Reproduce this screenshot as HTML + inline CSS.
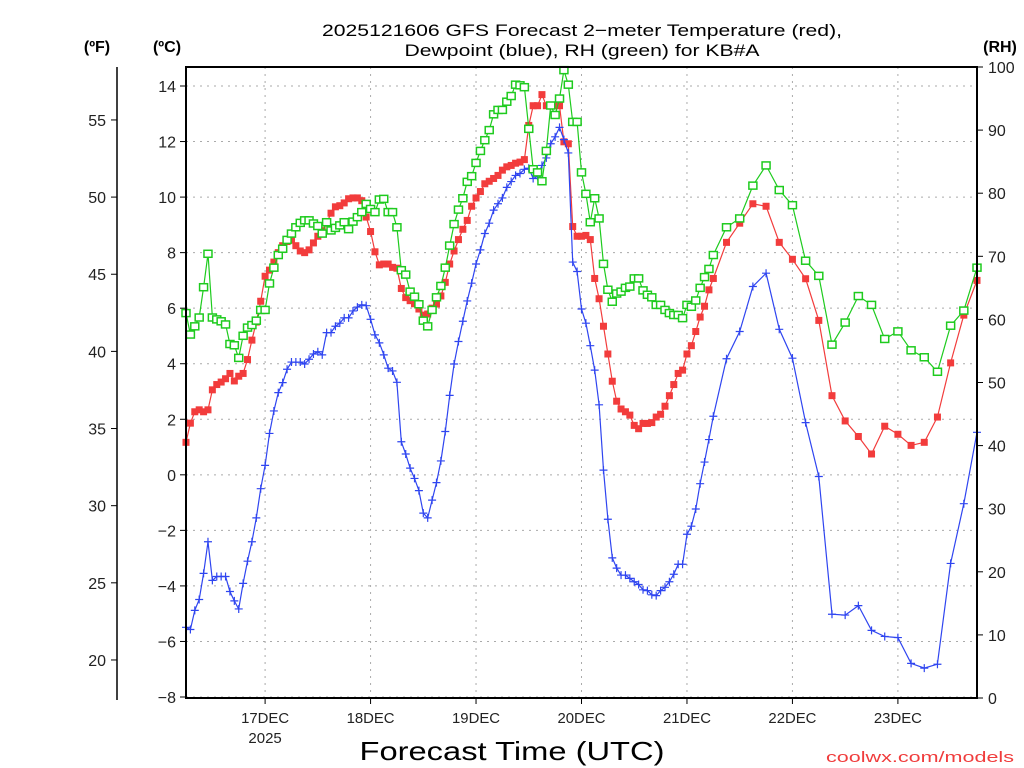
<!DOCTYPE html>
<html><head><meta charset="utf-8"><title>GFS Forecast KB#A</title>
<style>
html,body{margin:0;padding:0;background:#fff;}
svg{display:block;}
text{font-family:"Liberation Sans",sans-serif;}
</style></head>
<body>
<svg id="chart" width="1024" height="768" viewBox="0 0 1024 768" xmlns="http://www.w3.org/2000/svg">
<rect x="0" y="0" width="1024" height="768" fill="#fff"/>
<g id="grid"></g>
<g id="series"></g>
<g id="axes"></g>
<text x="582" y="36" text-anchor="middle" font-size="17" textLength="520" lengthAdjust="spacingAndGlyphs">2025121606 GFS Forecast 2−meter Temperature (red),</text>
<text x="582" y="56" text-anchor="middle" font-size="17" textLength="355" lengthAdjust="spacingAndGlyphs">Dewpoint (blue), RH (green) for KB#A</text>
<text x="97" y="52" text-anchor="middle" font-size="16" font-weight="bold">(ºF)</text>
<text x="167" y="52" text-anchor="middle" font-size="16" font-weight="bold">(ºC)</text>
<text x="1000" y="52" text-anchor="middle" font-size="16" font-weight="bold">(RH)</text>
<text x="512" y="760" text-anchor="middle" font-size="26" textLength="305" lengthAdjust="spacingAndGlyphs">Forecast Time (UTC)</text>
<text x="920" y="762" text-anchor="middle" font-size="15" fill="#f03c3c" textLength="188" lengthAdjust="spacingAndGlyphs">coolwx.com/models</text>
</svg>
<script>
const hours = [0,1,2,3,4,5,6,7,8,9,10,11,12,13,14,15,16,17,18,19,20,21,22,23,24,25,26,27,28,29,30,31,32,33,34,35,36,37,38,39,40,41,42,43,44,45,46,47,48,49,50,51,52,53,54,55,56,57,58,59,60,61,62,63,64,65,66,67,68,69,70,71,72,73,74,75,76,77,78,79,80,81,82,83,84,85,86,87,88,89,90,91,92,93,94,95,96,97,98,99,100,101,102,103,104,105,106,107,108,109,110,111,112,113,114,115,116,117,118,119,120,123,126,129,132,135,138,141,144,147,150,153,156,159,162,165,168,171,174,177,180];
const tempC = [1.17,1.86,2.27,2.34,2.27,2.34,3.06,3.25,3.34,3.46,3.65,3.38,3.55,3.65,4.15,
4.85,5.5,6.25,7.15,7.37,7.66,8.0,8.25,8.4,8.45,8.25,8.06,8.0,8.1,8.35,
8.59,8.79,9.06,9.42,9.65,9.69,9.79,9.94,9.97,9.97,9.87,9.28,8.76,8.03,7.56,
7.59,7.59,7.47,7.44,6.71,6.38,6.27,6.16,5.97,5.75,5.79,6.0,6.15,6.44,6.93,
7.59,8.06,8.47,8.84,9.16,9.67,9.97,10.2,10.48,10.57,10.67,10.78,10.97,11.09,11.14,
11.22,11.26,11.35,12.58,13.29,13.29,13.69,13.29,13.29,13.29,13.29,11.99,11.92,8.94,8.59,
8.59,8.62,8.47,7.07,6.34,5.35,4.35,3.37,2.65,2.37,2.27,2.15,1.78,1.66,1.85,
1.85,1.88,2.08,2.18,2.47,2.85,3.25,3.65,3.77,4.35,4.65,5.16,5.68,6.07,6.66,7.07,
8.37,9.06,9.76,9.67,8.37,7.76,7.06,5.56,2.85,1.94,1.38,0.75,1.75,1.46,1.06,1.17,2.08,4.03,5.75,7.0];
const dewC = [-5.49,-5.57,-4.88,-4.49,-3.55,-2.41,-3.80,-3.66,-3.66,-3.66,-4.20,-4.54,-4.83,-3.91,-3.11,
-2.41,-1.55,-0.50,0.34,1.49,2.30,2.96,3.32,3.80,4.06,4.06,4.06,3.99,4.16,4.35,
4.43,4.32,5.12,5.12,5.35,5.46,5.65,5.65,5.90,6.04,6.12,6.09,5.6,5.04,4.75,
4.32,3.84,3.74,3.33,1.19,0.75,0.24,-0.13,-0.57,-1.38,-1.55,-0.91,-0.28,0.5,1.56,
2.86,3.99,4.80,5.53,6.26,6.90,7.59,8.10,8.69,9.06,9.53,9.76,9.97,10.35,10.56,
10.78,10.85,11.0,11.04,10.67,10.75,11.14,11.41,11.92,12.17,12.51,12.07,11.59,7.66,7.32,
5.97,5.46,4.65,3.77,2.52,0.17,-1.60,-2.99,-3.36,-3.61,-3.61,-3.73,-3.85,-3.95,-4.14,
-4.17,-4.32,-4.35,-4.17,-4.05,-3.85,-3.58,-3.22,-3.22,-2.14,-1.85,-1.23,-0.32,0.46,1.27,2.11,
4.18,5.16,6.78,7.26,5.24,4.2,1.88,-0.06,-5.02,-5.05,-4.71,-5.6,-5.82,-5.86,-6.79,-6.96,-6.82,-3.19,-1.04,1.53];
const rhPct = [61.0,57.6,58.9,60.3,65.1,70.4,60.3,60.0,59.7,59.2,56.1,55.9,53.9,57.4,58.7,
59.1,59.8,61.5,61.5,65.7,68.2,70.2,71.2,72.6,73.6,74.6,75.3,75.7,75.7,75.2,
74.8,73.6,75.4,74.1,74.5,74.9,75.4,74.3,75.5,76.2,77.0,78.3,77.5,77.0,79.0,
79.1,77.0,77.0,74.6,67.8,67.1,64.4,63.6,62.4,59.8,58.9,61.5,63.5,65.3,68.2,
71.7,75.1,77.4,79.2,81.8,82.7,84.8,86.7,88.4,90.0,92.5,93.2,93.2,94.5,95.4,
97.2,97.1,96.8,90.2,83.8,83.3,81.9,86.7,93.9,92.4,95.0,99.5,97.2,91.3,91.3,
83.3,79.9,75.4,79.2,76.0,68.8,64.7,62.8,64.1,64.4,65.0,65.2,66.5,66.5,64.6,
63.9,63.5,62.3,62.3,61.5,61.0,60.7,60.7,60.2,62.3,62.0,63.0,65.0,66.7,68.0,70.2,
74.6,76.0,81.2,84.4,80.5,78.1,69.3,66.9,56.0,59.5,63.7,62.3,56.9,58.1,55.1,54.0,51.7,59.0,61.4,68.2];
const dayLabels = ["17DEC","18DEC","19DEC","20DEC","21DEC","22DEC","23DEC"];
const dayHours = [18,42,66,90,114,138,162];
const celsiusTicks = [14,12,10,8,6,4,2,0,-2,-4,-6,-8];
const fahrenheitTicks = [55,50,45,40,35,30,25,20];
const rhTicks = [100,90,80,70,60,50,40,30,20,10,0];

const NS = "http://www.w3.org/2000/svg";
const L = 186, R = 977, T = 67, B = 698;
const H0 = 0, H1 = 180;
function xs(h){ return L + (h - H0) / (H1 - H0) * (R - L); }
function yC(c){ return 86 + (14 - c) * (697 - 86) / 22; }
function yF(f){ return yC((f - 32) / 1.8); }
function yRH(r){ return B - r / 100 * (B - T); }
function mk(tag, attrs, parent){
  const e = document.createElementNS(NS, tag);
  for (const k in attrs) e.setAttribute(k, attrs[k]);
  parent.appendChild(e);
  return e;
}
const grid = document.getElementById('grid');
const axes = document.getElementById('axes');
const series = document.getElementById('series');

// horizontal grid + celsius ticks
celsiusTicks.forEach(c => {
  const y = yC(c);
  const g = mk('line', {x1:L, x2:R, y1:y, y2:y, stroke:'#aaa', 'stroke-width':1, 'stroke-dasharray':'2,5'}, grid);
  
  
  const t = mk('line', {x1:L-6, x2:L, y1:y, y2:y, stroke:'#000', 'stroke-width':1}, axes);
  
  
  const lb = mk('text', {x:L-10, y:y+6, 'text-anchor':'end', 'font-size':16, fill:'#222'}, axes);
  lb.textContent = c < 0 ? '−' + Math.abs(c) : String(c);
  
  
});
// vertical grid + day labels
dayHours.forEach((h, i) => {
  const x = xs(h);
  const g = mk('line', {x1:x, x2:x, y1:T, y2:B, stroke:'#aaa', 'stroke-width':1, 'stroke-dasharray':'2,5'}, grid);
  
  
  const t = mk('line', {x1:x, x2:x, y1:B, y2:B+6, stroke:'#000', 'stroke-width':1}, axes);
  
  
  const lb = mk('text', {x:x, y:723, 'text-anchor':'middle', 'font-size':15, fill:'#222', textLength:48, lengthAdjust:'spacingAndGlyphs'}, axes);
  lb.textContent = dayLabels[i];
  
  
  if (i === 0) {
    const yr = mk('text', {x:x, y:743, 'text-anchor':'middle', 'font-size':15, fill:'#222'}, axes);
    yr.textContent = '2025';
    
    
  }
});
// RH ticks
rhTicks.forEach(r => {
  const y = yRH(r);
  const t = mk('line', {x1:R, x2:R+6, y1:y, y2:y, stroke:'#000', 'stroke-width':1}, axes);
  
  
  const lb = mk('text', {x:R+11, y:y+6, 'text-anchor':'start', 'font-size':16, fill:'#222'}, axes);
  lb.textContent = String(r);
  
  
});
// Fahrenheit axis
const fAx = mk('line', {x1:117, x2:117, y1:T, y2:700, stroke:'#000', 'stroke-width':1.5}, axes);


fahrenheitTicks.forEach(f => {
  const y = yF(f);
  const t = mk('line', {x1:111, x2:117, y1:y, y2:y, stroke:'#000', 'stroke-width':1}, axes);
  
  
  const lb = mk('text', {x:106, y:y+6, 'text-anchor':'end', 'font-size':16, fill:'#222'}, axes);
  lb.textContent = String(f);
  
  
});
// frame
const frame = mk('rect', {x:L, y:T, width:R-L, height:B-T, fill:'none', stroke:'#000', 'stroke-width':2}, axes);



function drawSeries(vals, yfun, color, kind, name){
  const g = mk('g', {}, series);
  
  
  const pts = vals.map((v, i) => xs(hours[i]).toFixed(1) + ',' + yfun(v).toFixed(1)).join(' ');
  const pl = mk('polyline', {points:pts, fill:'none', stroke:color, 'stroke-width':1.2}, g);
  
  
  vals.forEach((v, i) => {
    const x = xs(hours[i]), y = yfun(v);
    let m;
    if (kind === 'filled') {
      m = mk('rect', {x:x-3.5, y:y-3.5, width:7, height:7, fill:color}, g);
    } else if (kind === 'hollow') {
      m = mk('rect', {x:x-4, y:y-3.5, width:8, height:7, fill:'#fff', stroke:color, 'stroke-width':1.5}, g);
    } else {
      m = mk('path', {d:'M'+(x-4)+','+y+'h8M'+x+','+(y-4)+'v8', stroke:color, 'stroke-width':1.2, fill:'none'}, g);
    }
    
    
  });
}
drawSeries(tempC, yC, '#f23c3c', 'filled', 'temperature-series');
drawSeries(dewC, yC, '#2f45f0', 'plus', 'dewpoint-series');
drawSeries(rhPct, yRH, '#1ecb1e', 'hollow', 'rh-series');
</script>
</body></html>
